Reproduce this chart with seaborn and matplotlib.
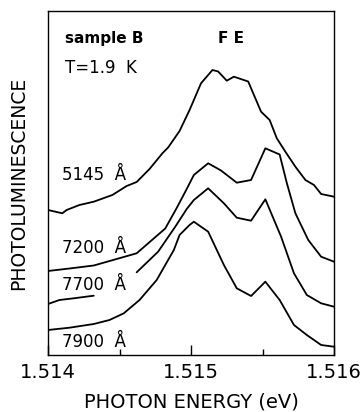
import numpy as np
import pandas as pd
import matplotlib
matplotlib.use("Agg")
import matplotlib.pyplot as plt
from matplotlib.ticker import MultipleLocator
import seaborn as sns

# ------------------------------------------------------------
# data (PL intensity, arbitrary units)
# ------------------------------------------------------------
energy_5145 = [1.51400, 1.51410, 1.51413, 1.51422, 1.51432, 1.51445, 1.51455,
               1.51462, 1.51471, 1.51480, 1.51484, 1.51492, 1.51499, 1.51507,
               1.51515, 1.51519, 1.51525, 1.51530, 1.51540, 1.51545, 1.51549,
               1.51555, 1.51560, 1.51566, 1.51573, 1.51580, 1.51586, 1.51591,
               1.51600]
pl_5145 = [145, 141.7, 145, 150, 153.3, 160, 169, 173, 186, 201.7, 207.5, 224,
           245, 271.7, 285, 283.5, 274.3, 278.3, 273.5, 256.7, 243.3, 235,
           216.7, 203.3, 188.3, 175, 170, 161, 158.3]

energy_7200 = [1.51400, 1.51415, 1.51432, 1.51462, 1.51482, 1.51490, 1.51497,
               1.51502, 1.51512, 1.51521, 1.51532, 1.51542, 1.51552, 1.51562,
               1.51567, 1.51573, 1.51582, 1.51591, 1.51600]
pl_7200 = [84, 86.5, 89.5, 101.7, 126.5, 147, 166, 180, 191.7, 184.5, 172.3,
           175, 206.7, 200.5, 172, 141.7, 115, 98.3, 93.3]

# the gap in the 7700 curve sits behind its label
energy_7700 = [1.51400, 1.51408, 1.51418, 1.51432, 1.51447, 1.51462, 1.51477,
               1.51489, 1.51497, 1.51502, 1.51512, 1.51523, 1.51532, 1.51542,
               1.51552, 1.51563, 1.51572, 1.51581, 1.51591, 1.51600]
pl_7700 = [51, 55, 56.7, 59.3, np.nan, 82.7, 103.3, 128.3, 146, 155, 166.7,
           151.7, 137.3, 134.3, 155.7, 118.3, 81.7, 60, 51.7, 48.3]

energy_7900 = [1.51400, 1.51415, 1.51432, 1.51443, 1.51453, 1.51464, 1.51476,
               1.51488, 1.51492, 1.51499, 1.51502, 1.51512, 1.51523, 1.51532,
               1.51542, 1.51552, 1.51562, 1.51572, 1.51581, 1.51591, 1.51600]
pl_7900 = [25, 27.3, 31, 35, 41.7, 55, 75, 105, 120, 130, 133.3, 123.3, 90,
           66.7, 59, 73.3, 55, 30, 20, 10, 8.3]

curve_names = ["5145 Å", "7200 Å", "7700 Å", "7900 Å"]
curve_data = [(energy_5145, pl_5145), (energy_7200, pl_7200),
              (energy_7700, pl_7700), (energy_7900, pl_7900)]

frames = []
for name, (e, p) in zip(curve_names, curve_data):
    d = pd.DataFrame({"energy": e, "pl": p})
    d["segment"] = name + "_" + d["pl"].isna().cumsum().astype(str)
    frames.append(d.dropna())
df = pd.concat(frames, ignore_index=True)

# ------------------------------------------------------------
# plot
# ------------------------------------------------------------
sns.set_theme(style="white")
plt.rcParams["font.family"] = ["DejaVu Sans"]
plt.rcParams["text.color"] = "black"
plt.rcParams["axes.labelcolor"] = "black"
plt.rcParams["xtick.color"] = "black"

fig = plt.figure(figsize=(3.64, 4.12), dpi=100)
ax = fig.add_axes([48 / 364, 1 - 355 / 412, 286 / 364, 344 / 412])

sns.lineplot(data=df, x="energy", y="pl", units="segment", estimator=None,
             sort=False, color="black", linewidth=1.3, ax=ax)

ax.set_xlim(1.514, 1.516)
ax.set_ylim(0, 344)
ax.xaxis.set_major_locator(MultipleLocator(0.001))
ax.xaxis.set_minor_locator(MultipleLocator(0.0005))
ax.xaxis.set_major_formatter(matplotlib.ticker.FormatStrFormatter("%.3f"))
ax.set_yticks([])
ax.tick_params(axis="x", which="major", direction="in", length=7, width=1,
               color="black", labelcolor="black", labelsize=14, pad=6,
               bottom=True)
ax.tick_params(axis="x", which="minor", direction="in", length=4, width=1,
               color="black", bottom=True)
for s in ax.spines.values():
    s.set_color("black")
    s.set_linewidth(1.0)

ax.set_xlabel("PHOTON ENERGY (eV)", fontsize=14, labelpad=7, color="black")
ax.set_ylabel("PHOTOLUMINESCENCE", fontsize=13.5, labelpad=14, color="black")

ax.text(0.059, 0.9215, "sample B", transform=ax.transAxes, fontsize=11,
        fontweight="bold", va="center", ha="left", color="black")
ax.text(0.64, 0.9215, "F E", transform=ax.transAxes, fontsize=11,
        fontweight="bold", va="center", ha="center", color="black")
ax.text(0.059, 0.834, "T=1.9  K", transform=ax.transAxes, fontsize=12,
        va="center", ha="left", color="black")

label_pos = [0.523, 0.311, 0.2035, 0.038]
for name, yp in zip(curve_names, label_pos):
    ax.text(0.05, yp, name.replace(" ", "  "), transform=ax.transAxes,
            fontsize=12, va="center", ha="left", color="black")

fig.savefig("out.png", dpi=100)
